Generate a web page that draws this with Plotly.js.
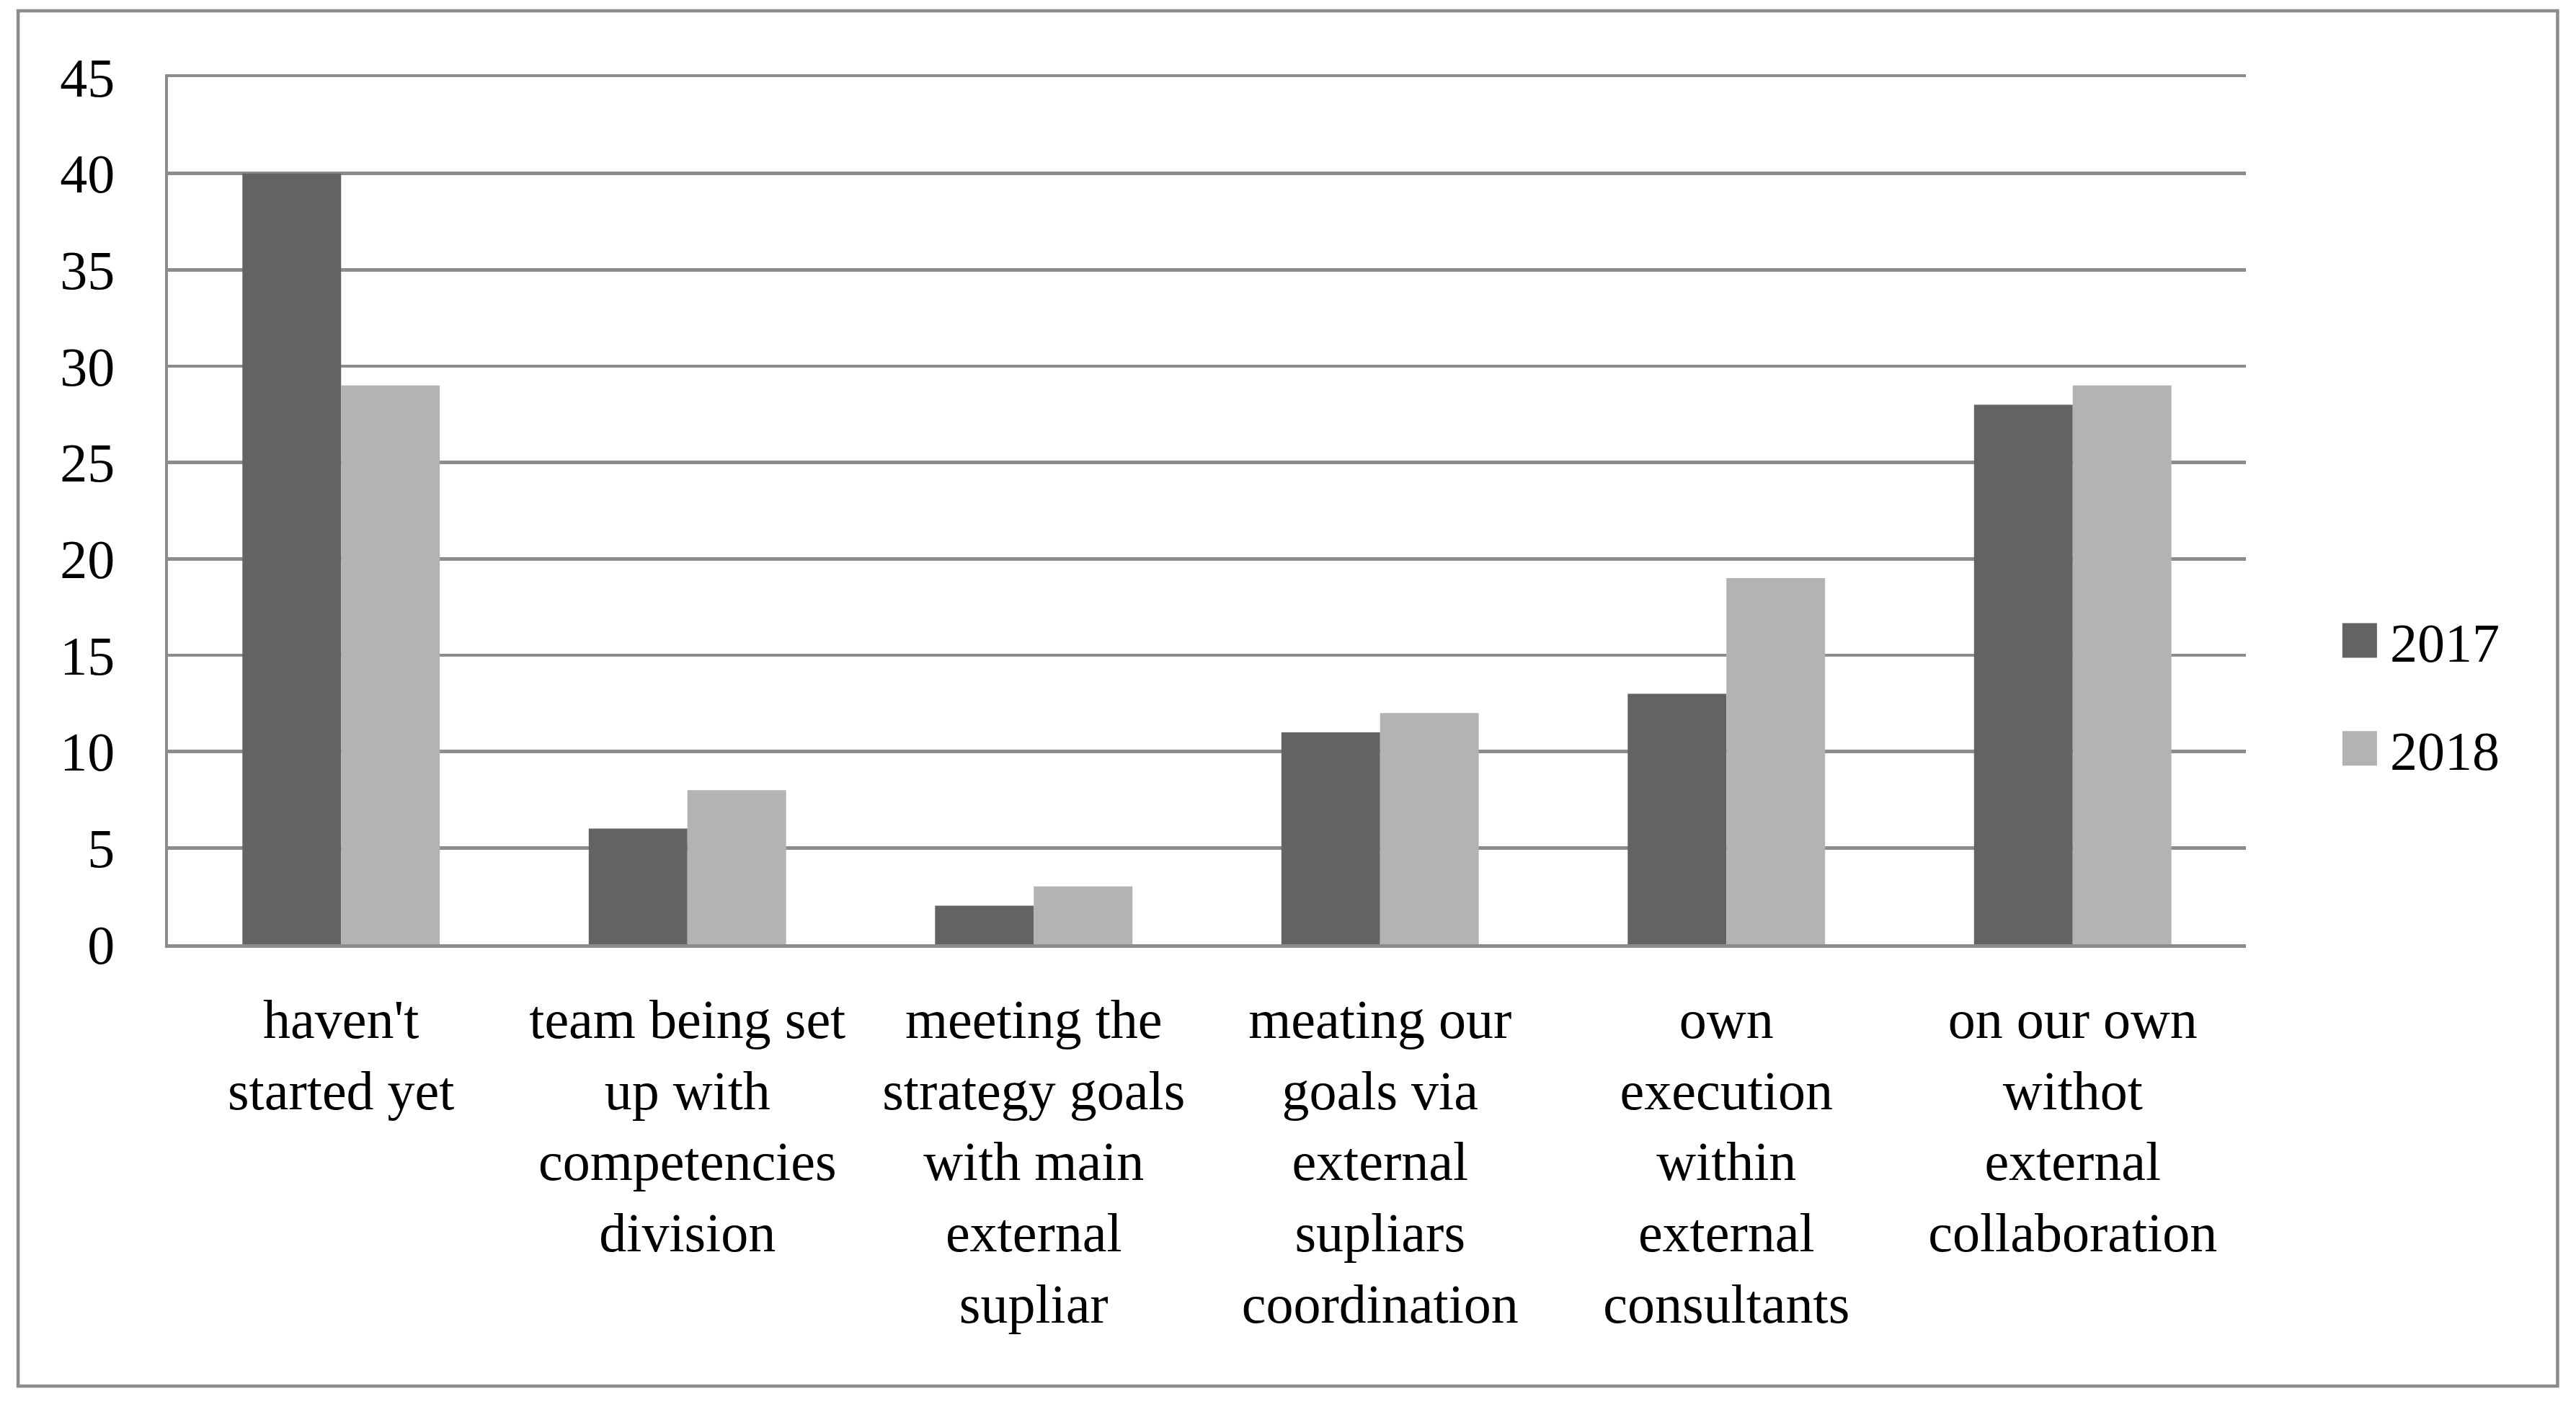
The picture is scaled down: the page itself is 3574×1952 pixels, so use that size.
<!DOCTYPE html>
<html>
<head>
<meta charset="utf-8">
<script src="https://cdn.plot.ly/plotly-3.0.1.min.js"></script>
<style>
  html, body { margin: 0; padding: 0; background: #ffffff; }
  #chart { width: 3574px; height: 1952px; }
</style>
</head>
<body>
<div id="chart"></div>
<script>
// Categories (x-axis labels, broken over lines as in the original)
const categories = [
  "haven't<br>started yet",
  "team being set<br>up with<br>competencies<br>division",
  "meeting the<br>strategy goals<br>with main<br>external<br>supliar",
  "meating our<br>goals via<br>external<br>supliars<br>coordination",
  "own<br>execution<br>within<br>external<br>consultants",
  "on our own<br>withot<br>external<br>collaboration",
];

// Series values
const values2017 = [40, 6, 2, 11, 13, 28];
const values2018 = [29, 8, 3, 12, 19, 29];

const yTicks = [0, 5, 10, 15, 20, 25, 30, 35, 40, 45];

const COLOR_2017 = "#636363";
const COLOR_2018 = "#b3b3b3";
const GRID_COLOR = "#8c8c8c";
const FONT = "'Liberation Serif', 'DejaVu Serif', serif";
const FONT_SIZE = 76;

const traces = [
  {
    x: categories,
    y: values2017,
    name: "2017",
    type: "bar",
    legendgroup: "a",
    marker: { color: COLOR_2017 },
  },
  {
    x: categories,
    y: values2018,
    name: "2018",
    type: "bar",
    legendgroup: "b",
    marker: { color: COLOR_2018 },
  },
];

const layout = {
  width: 3574,
  height: 1952,
  margin: { l: 233, r: 458, t: 107, b: 642 },
  paper_bgcolor: "#ffffff",
  plot_bgcolor: "#ffffff",
  font: { family: FONT, size: FONT_SIZE, color: "#000000" },
  barmode: "group",
  bargap: 0.43,
  bargroupgap: 0,
  showlegend: true,
  legend: {
    x: 1.0402,
    xanchor: "left",
    y: 0.288,
    yanchor: "middle",
    itemwidth: 74,
    tracegroupgap: 48,
    font: { family: FONT, size: FONT_SIZE, color: "#000000" },
    bgcolor: "rgba(0,0,0,0)",
  },
  xaxis: {
    type: "category",
    showgrid: false,
    showline: true,
    mirror: true, // top line stands in for the 45 gridline
    linecolor: GRID_COLOR,
    linewidth: 4.5,
    ticks: "",
    ticklabelstandoff: 34,
    tickfont: { family: FONT, size: FONT_SIZE, color: "#000000" },
    fixedrange: true,
  },
  yaxis: {
    range: [0, 45],
    tickvals: yTicks,
    showgrid: true,
    gridcolor: GRID_COLOR,
    gridwidth: 4.5,
    zeroline: false,
    showline: true,
    linecolor: GRID_COLOR,
    linewidth: 4.5,
    ticks: "",
    ticklabelstandoff: 54,
    tickfont: { family: FONT, size: FONT_SIZE, color: "#000000" },
    fixedrange: true,
  },
  // Outer frame around the whole figure
  shapes: [
    {
      type: "rect",
      xref: "paper",
      yref: "paper",
      x0: -0.0721,
      x1: 1.15,
      y0: -0.5096,
      y1: 1.0765,
      line: { color: GRID_COLOR, width: 4.5 },
      fillcolor: "rgba(0,0,0,0)",
      layer: "below",
    },
  ],
};

const config = { staticPlot: true, responsive: false };

Plotly.newPlot("chart", traces, layout, config).then(function () {
  // Enlarge the legend swatches to match the original's big squares
  document.querySelectorAll("#chart .legend .legendpoints path").forEach(function (p) {
    p.setAttribute("d", "M24,24H-24V-24H24Z");
  });
});
</script>
</body>
</html>
